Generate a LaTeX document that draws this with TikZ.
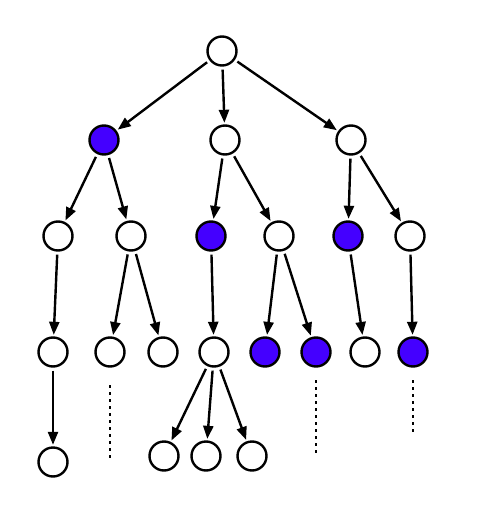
\documentclass[tikz,border=0pt]{standalone}
\usetikzlibrary{arrows.meta}
\definecolor{vio}{RGB}{68,0,255}
\begin{document}
\begin{tikzpicture}[x=1pt,y=-1pt]
\tikzset{
  nd/.style={circle,draw=black,line width=2.4pt,minimum size=29pt,inner sep=0pt,fill=white},
  fl/.style={nd,fill=vio},
  ed/.style={line width=2.4pt,-{Triangle[length=13pt,width=10pt]},shorten <=3pt,shorten >=1.5pt},
  dt/.style={line width=2.4pt,dash pattern=on 3pt off 4pt}}
\useasboundingbox (0,0) rectangle (481,521);
\node[nd] (r) at (222,51) {};
\node[fl] (a) at (104,140) {};
\node[nd] (b) at (225,140) {};
\node[nd] (c) at (351,140) {};
\node[nd] (a1) at (58,236) {};
\node[nd] (a2) at (131,236) {};
\node[fl] (b1) at (211,236) {};
\node[nd] (b2) at (279,236) {};
\node[fl] (c1) at (348,236) {};
\node[nd] (c2) at (410,236) {};
\node[nd] (a11) at (53,352) {};
\node[nd] (a21) at (110,352) {};
\node[nd] (a22) at (163,352) {};
\node[nd] (b11) at (214,352) {};
\node[fl] (b21) at (265,352) {};
\node[fl] (b22) at (316,352) {};
\node[nd] (c11) at (365,352) {};
\node[fl] (c21) at (413,352) {};
\node[nd] (a111) at (53,462) {};
\node[nd] (b111) at (164,456) {};
\node[nd] (b112) at (206,456) {};
\node[nd] (b113) at (252,456) {};
\coordinate (d1a) at (110,385); \coordinate (d1b) at (110,458);
\coordinate (d2a) at (316,380); \coordinate (d2b) at (316,455);
\coordinate (d3a) at (413,380); \coordinate (d3b) at (413,433);
\draw[dt] (d1a) -- (d1b);
\draw[dt] (d2a) -- (d2b);
\draw[dt] (d3a) -- (d3b);
\draw[ed] (r) -- (a);
\draw[ed] (r) -- (b);
\draw[ed] (r) -- (c);
\draw[ed] (a) -- (a1);
\draw[ed] (a) -- (a2);
\draw[ed] (b) -- (b1);
\draw[ed] (b) -- (b2);
\draw[ed] (c) -- (c1);
\draw[ed] (c) -- (c2);
\draw[ed] (a1) -- (a11);
\draw[ed] (a2) -- (a21);
\draw[ed] (a2) -- (a22);
\draw[ed] (b1) -- (b11);
\draw[ed] (b2) -- (b21);
\draw[ed] (b2) -- (b22);
\draw[ed] (c1) -- (c11);
\draw[ed] (c2) -- (c21);
\draw[ed] (a11) -- (a111);
\draw[ed] (b11) -- (b111);
\draw[ed] (b11) -- (b112);
\draw[ed] (b11) -- (b113);
\end{tikzpicture}
\end{document}
